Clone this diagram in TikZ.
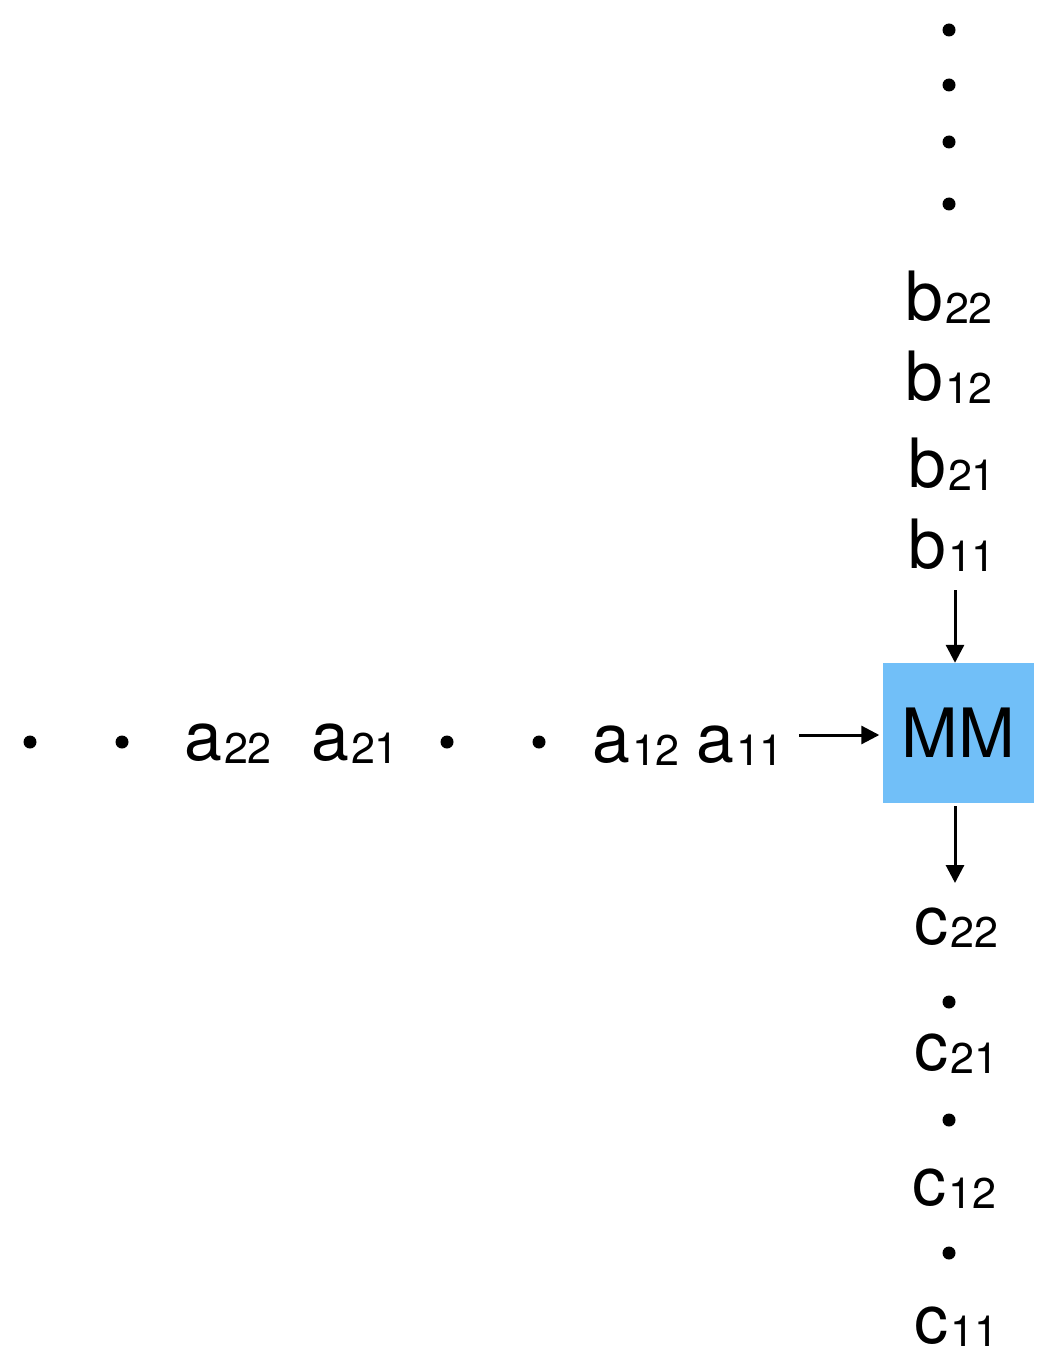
\documentclass[tikz,border=0pt]{standalone}
\usepackage{fontspec}
\setmainfont{TeX Gyre Heros}
\usetikzlibrary{arrows.meta}
\newcommand{\myent}[2]{{\fontsize{68}{72}\selectfont #1}\kern2pt\raisebox{-3pt}{\fontsize{43}{46}\selectfont #2}}
\definecolor{mmblue}{HTML}{71BFF8}
\tikzset{
  lbl/.style={inner sep=0pt, anchor=base west},
  dotmark/.style={circle, fill=black, inner sep=0pt, minimum size=13pt},
  arr/.style={line width=3pt, -{Triangle[length=18pt,width=18pt]}},
  mmbox/.style={fill=mmblue, minimum width=151pt, minimum height=140pt, inner sep=0pt, font=\fontsize{68}{72}\selectfont}
}
\begin{document}
\begin{tikzpicture}[x=1pt,y=-1pt]
\useasboundingbox (0,0) rectangle (1050,1372);
% top dots
\node[dotmark] (t1) at (949,30) {};
\node[dotmark] (t2) at (949,85) {};
\node[dotmark] (t3) at (949,142) {};
\node[dotmark] (t4) at (949,204) {};
% b entries
\node[lbl] (b22) at (905,320) {\myent{b}{22}};
\node[lbl] (b12) at (905,400) {\myent{b}{12}};
\node[lbl] (b21) at (908,487) {\myent{b}{21}};
\node[lbl] (b11) at (908,568) {\myent{b}{11}};
% box
\node[mmbox] (box) at (958,733) {MM};
% a row
\node[dotmark] (h1) at (30,742) {};
\node[dotmark] (h2) at (122,742) {};
\node[lbl] (a22) at (184,760) {\myent{a}{22}};
\node[lbl] (a21) at (311,760) {\myent{a}{21}};
\node[dotmark] (h3) at (447,742) {};
\node[dotmark] (h4) at (539,742) {};
\node[lbl] (a12) at (592,762) {\myent{a}{12}};
\node[lbl] (a11) at (696,762) {\myent{a}{11}};
% c column
\node[lbl] (c22) at (914,944) {\myent{c}{22}};
\node[dotmark] (v1) at (949,1002) {};
\node[lbl] (c21) at (914,1070) {\myent{c}{21}};
\node[dotmark] (v2) at (949,1120) {};
\node[lbl] (c12) at (912,1205) {\myent{c}{12}};
\node[dotmark] (v3) at (949,1253) {};
\node[lbl] (c11) at (914,1343) {\myent{c}{11}};
% connectors
\coordinate (bin) at (955,590);
\coordinate (ain) at (799,735);
\coordinate (cout) at (955,806);
\draw[arr] (bin) -- (bin |- box.north);
\draw[arr] (ain) -- ([xshift=-3pt]ain -| box.west);
\draw[arr] (cout) -- ++(0,77);
\end{tikzpicture}
\end{document}
